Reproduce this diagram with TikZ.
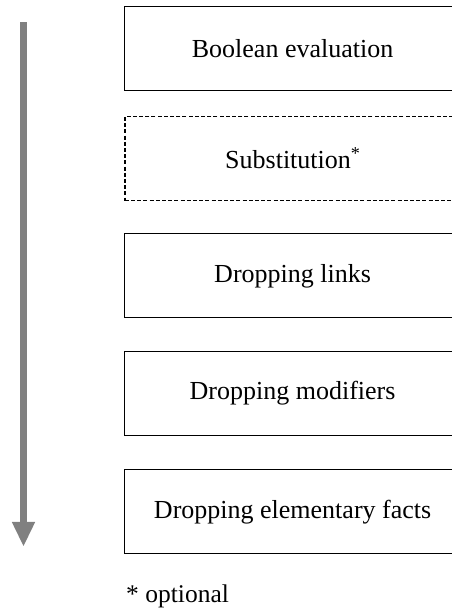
\documentclass[tikz,border=0pt]{standalone}
\usepackage{fontspec}
\setmainfont{Liberation Serif}
\definecolor{arrowgray}{HTML}{808080}
\begin{document}
\begin{tikzpicture}[x=1pt,y=1pt,
  stepbox/.style={draw=black, line width=1.2pt, minimum width=336pt, minimum height=84pt,
    inner sep=0pt, anchor=north west, font=\fontsize{26}{30}\selectfont},
  optbox/.style={stepbox, dashed, dash pattern=on 4pt off 2.2pt, line width=1.7pt},
  note/.style={anchor=base west, inner sep=0pt, font=\fontsize{25.5}{30}\selectfont}]
\clip (0,0) rectangle (452,610);
\fill[white] (0,0) rectangle (452,610);
\node[stepbox] (b1) at (124,604) {Boolean evaluation};
\node[optbox]  (b2) at (124,494.3) {Substitution\textsuperscript{*}};
\node[stepbox] (b3) at (124,376.7) {Dropping links};
\node[stepbox] (b4) at (124,259) {Dropping modifiers};
\node[stepbox] (b5) at (124,140.7) {Dropping elementary facts};
\node[note] (n) at (126,8) {* optional};
\coordinate (atop) at (23.5,588);
\coordinate (abase) at (23.5,88);
\coordinate (atip) at (23.5,64);
\fill[arrowgray] ([xshift=-3.5pt]atop) rectangle ([xshift=3.5pt]abase);
\fill[arrowgray] ([xshift=-11.7pt]abase) -- ([xshift=11.7pt]abase) -- (atip) -- cycle;
\end{tikzpicture}
\end{document}
